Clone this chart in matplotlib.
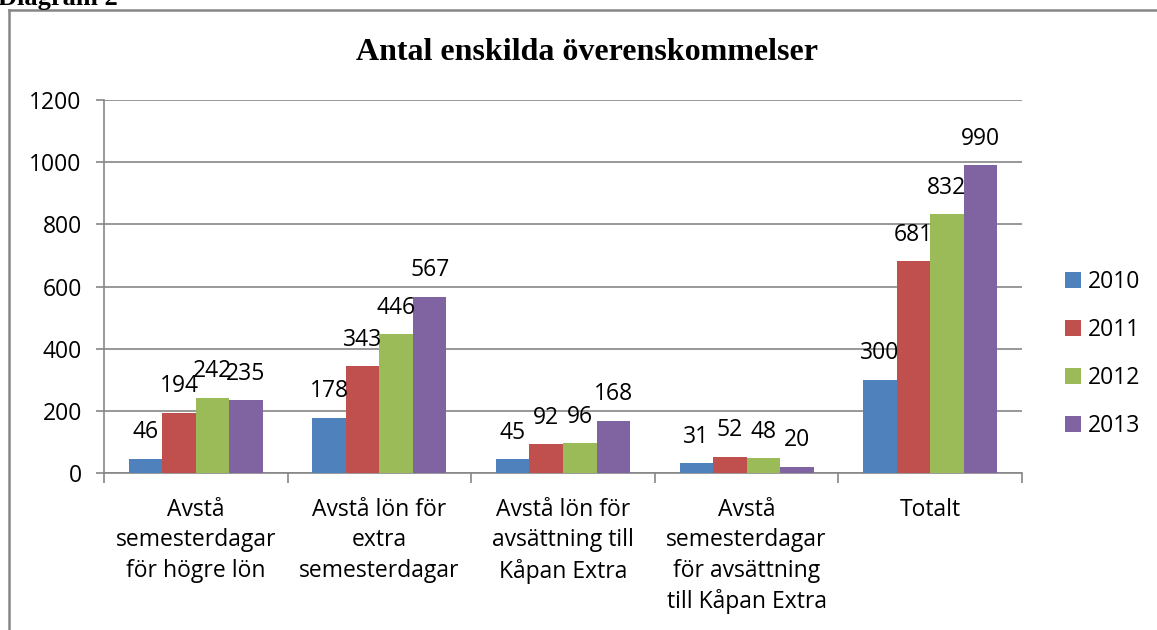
"""Diagram 2 -- antal enskilda överenskommelser per år och typ."""

import matplotlib
matplotlib.use('Agg')
import matplotlib.pyplot as plt
from matplotlib.lines import Line2D
import numpy as np

categories = [
    'Avstå\nsemesterdagar\nför högre lön',
    'Avstå lön för\nextra\nsemesterdagar',
    'Avstå lön för\navsättning till\nKåpan Extra',
    'Avstå\nsemesterdagar\nför avsättning\ntill Kåpan Extra',
    'Totalt',
]
years = ['2010', '2011', '2012', '2013']
v2010 = [46, 178, 45, 31, 300]
v2011 = [194, 343, 92, 52, 681]
v2012 = [242, 446, 96, 48, 832]
v2013 = [235, 567, 168, 20, 990]
colors = ['#4F81BD', '#C0504D', '#9BBB59', '#8064A2']

plt.rcParams['font.family'] = ['Open Sans', 'DejaVu Sans']
grey = '#868686'
fs = 16.5

fig = plt.figure(figsize=(11.57, 6.3), dpi=100)
ax = fig.add_axes([104 / 1157, 1 - 473 / 630, (1022 - 104) / 1157, (473 - 100) / 630])

x = np.arange(len(categories))
w = 0.1825
for i, (year, vals, c) in enumerate(zip(years, [v2010, v2011, v2012, v2013], colors)):
    pos = x + (i - 1.5) * w
    ax.bar(pos, vals, width=w, color=c, label=year, zorder=3)
    for p, v in zip(pos, vals):
        ax.annotate(str(v), (p, v), xytext=(0, 19), textcoords='offset points',
                    ha='center', va='center', fontsize=fs, zorder=4)

ax.set_xlim(-0.5, len(categories) - 0.5)
ax.set_ylim(0, 1200)
ax.set_yticks(range(0, 1201, 200))
ax.yaxis.grid(True, color=grey, linewidth=1.2, zorder=0)
ax.tick_params(axis='y', labelsize=fs, length=6, color=grey, width=1.2, pad=10)

ax.set_xticks(np.arange(-0.5, len(categories)), labels=[''] * (len(categories) + 1))
ax.tick_params(axis='x', which='major', length=7, color=grey, width=1.2)
ax.set_xticks(x, labels=categories, minor=True)
ax.tick_params(axis='x', which='minor', length=0, labelsize=fs, pad=18)
for lbl in ax.get_xticklabels(minor=True):
    lbl.set_linespacing(1.35)
    lbl.set_verticalalignment('top')

for s in ['top', 'right']:
    ax.spines[s].set_visible(False)
for s in ['left', 'bottom']:
    ax.spines[s].set_color(grey)
    ax.spines[s].set_linewidth(1.2)

fig.legend(loc='center left', bbox_to_anchor=(1044 / 1157, 1 - 354 / 630), frameon=False,
           fontsize=fs, handlelength=0.7, handleheight=0.7, handletextpad=0.3,
           labelspacing=1.05)

fig.text(587 / 1157, 1 - 52 / 630, 'Antal enskilda överenskommelser', ha='center', va='center',
         fontsize=23, fontweight='bold', family='Liberation Serif')
fig.text(-2 / 1157, 1 - 5 / 630, 'Diagram 2', ha='left', va='baseline',
         fontsize=19, fontweight='bold', family='Liberation Serif')

# ram runt diagrammet (bara vänster och övre kant syns)
fig.add_artist(Line2D([8.5 / 1157, 8.5 / 1157], [0, 1 - 10 / 630], transform=fig.transFigure,
                      color=grey, linewidth=1.8))
fig.add_artist(Line2D([8.5 / 1157, 1], [1 - 10 / 630, 1 - 10 / 630], transform=fig.transFigure,
                      color=grey, linewidth=1.8))

fig.savefig('out.png', dpi=100)
